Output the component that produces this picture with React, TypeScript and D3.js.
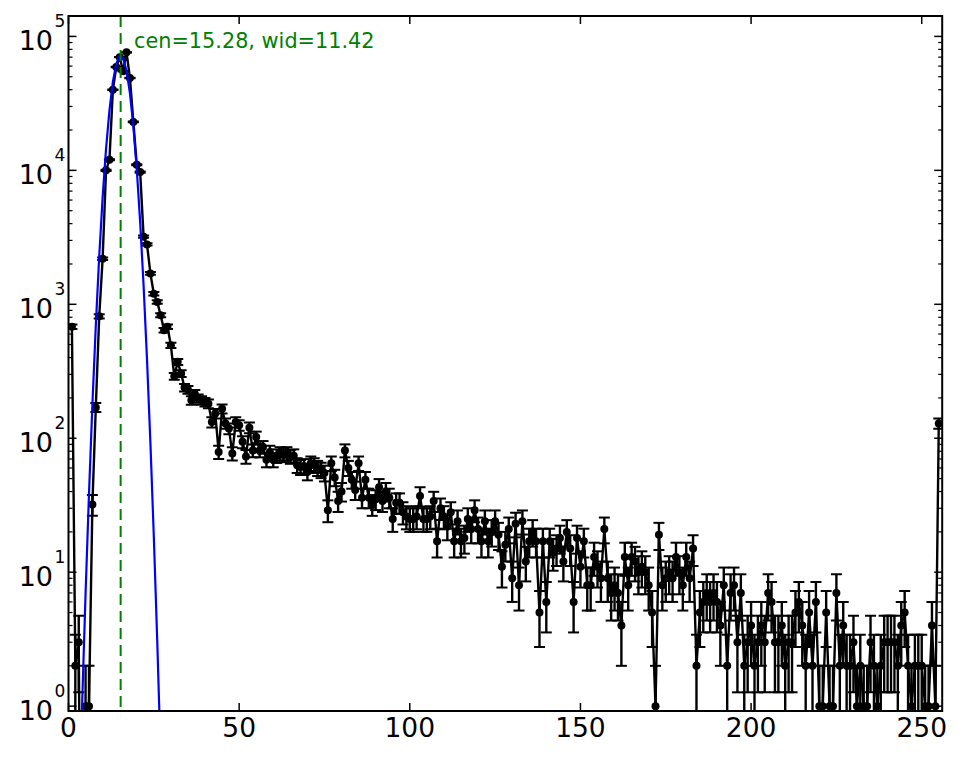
import React from 'react';
import * as d3 from 'd3';

// counts per channel, starting at channel 1
const firstChannel = 1;
const counts = [
  680, 2, 3, 0, 1, 1, 32, 170, 813, 2190,
  10000, 12000, 40000, 59000, 70000, 55000, 76000, 49000, 23000, 11000,
  9700, 3200, 2800, 1700, 1200, 1040, 830, 640, 680, 494,
  290, 372, 304, 239, 230, 192, 215, 198, 192, 186,
  181, 132, 153, 79, 166, 129, 118, 77, 132, 125,
  94, 73, 120, 81, 102, 81, 86, 69, 79, 69,
  74, 77, 75, 77, 73, 74, 63, 61, 62, 56,
  65, 63, 60, 58, 55, 29, 65, 51, 34, 40,
  81, 60, 49, 41, 65, 36, 49, 36, 32, 35,
  43, 34, 40, 36, 25, 33, 33, 28, 26, 25,
  25, 26, 37, 25, 25, 26, 34, 17, 30, 26,
  22, 28, 17, 24, 17, 18, 25, 21, 29, 21,
  17, 24, 17, 20, 24, 19, 11, 16, 21, 9,
  23, 8, 24, 12, 17, 20, 17, 5, 17, 6,
  17, 14, 15, 18, 12, 20, 15, 6, 18, 11,
  17, 8, 8, 13, 11, 9, 21, 9, 7, 8,
  7, 4, 13, 8, 13, 12, 10, 11, 10, 8,
  5, 1, 19, 8, 9, 10, 9, 13, 10, 8,
  13, 9, 15, 2, 5, 6, 7, 6, 7, 6,
  4, 8, 2, 7, 8, 3, 7, 2, 3, 4,
  2, 3, 4, 3, 7, 6, 3, 3, 4, 2,
  3, 3, 5, 6, 4, 2, 5, 2, 6, 1,
  1, 5, 1, 1, 7, 2, 4, 2, 2, 3,
  1, 2, 1, 1, 3, 2, 1, 2, 3, 3,
  3, 3, 2, 4, 5, 2, 1, 2, 2, 2,
  1, 1, 4, 1, 129,
];

const xTicks = [0, 50, 100, 150, 200, 250];
const yDecades = [0, 1, 2, 3, 4, 5];

// fitted gaussian parameters (shown in the label)
const fitCen = 15.28;
const fitWid = 11.42;
const fitAmp = 7.2e4;
const fitLabel = 'cen=15.28, wid=11.42';

export default function App() {
  const W = 965, H = 757;
  const L = 68.5, R = 942.2, T = 16, B = 711;
  const x = d3.scaleLinear().domain([0, 256]).range([L, R]);
  const y = d3.scaleLog().domain([0.92, 1.42e5]).range([B, T]);
  const floor = 1e-3;
  const yc = (v: number) => y(Math.max(v, floor));

  const pts = counts.map((v, i) => ({ x: i + firstChannel, v }));
  const line = d3.line<{ x: number; v: number }>().x(d => x(d.x)).y(d => yc(d.v));
  const fitPts = d3.range(0, 257).map(c => ({ x: c, v: fitAmp * Math.exp(-((c - fitCen) ** 2) / fitWid) }));

  const capW = 5.5;
  const font = 'DejaVu Sans, sans-serif';

  const minorTicks: number[] = [];
  for (let k = 0; k < 6; k++) for (let m = 2; m <= 9; m++) {
    const v = m * Math.pow(10, k);
    if (v <= 1.42e5) minorTicks.push(v);
  }

  return (
    <svg width={W} height={H} style={{ position: 'absolute', left: 0, top: 0, background: '#fff' }}
      xmlns="http://www.w3.org/2000/svg">
      <defs>
        <clipPath id="plotclip">
          <rect x={L} y={T} width={R - L} height={B - T} />
        </clipPath>
      </defs>
      <rect x={0} y={0} width={W} height={H} fill="#fff" />
      <g clipPath="url(#plotclip)">
        <path d={line(pts) || ''} fill="none" stroke="#000" strokeWidth={2.4} strokeLinejoin="round" />
        {pts.filter(d => d.v > 0).map(d => {
          const s = Math.sqrt(d.v);
          const lo = d.v - s, hi = d.v + s;
          const cx = x(d.x);
          const yl = yc(lo), yh = yc(hi);
          return (
            <g key={'e' + d.x}>
              <line x1={cx} x2={cx} y1={yl} y2={yh} stroke="#000" strokeWidth={2.4} />
              <line x1={cx - capW} x2={cx + capW} y1={yh} y2={yh} stroke="#000" strokeWidth={2} />
              {lo > 0 && <line x1={cx - capW} x2={cx + capW} y1={yl} y2={yl} stroke="#000" strokeWidth={2} />}
              <circle cx={cx} cy={y(d.v)} r={4} fill="#000" />
            </g>
          );
        })}
        <path d={line(fitPts) || ''} fill="none" stroke="#0000ff" strokeWidth={2.2} />
        <line x1={x(fitCen)} x2={x(fitCen)} y1={T} y2={B} stroke="#008000" strokeWidth={2} strokeDasharray="11,6" />
      </g>
      <text x={134} y={48} fill="#008000" fontFamily={font} fontSize={20.8}>{fitLabel}</text>

      {xTicks.map(t => (
        <g key={'xt' + t}>
          <line x1={x(t)} x2={x(t)} y1={B} y2={B - 8} stroke="#000" strokeWidth={1.5} />
          <line x1={x(t)} x2={x(t)} y1={T} y2={T + 8} stroke="#000" strokeWidth={1.5} />
          <text x={x(t)} y={737} textAnchor="middle" fontFamily={font} fontSize={26.5} fill="#000">{t}</text>
        </g>
      ))}
      {yDecades.map(k => {
        const py = y(Math.pow(10, k));
        return (
          <g key={'yt' + k}>
            <line x1={L} x2={L + 8} y1={py} y2={py} stroke="#000" strokeWidth={1.5} />
            <line x1={R} x2={R - 8} y1={py} y2={py} stroke="#000" strokeWidth={1.5} />
            <text x={53} y={py + 13.8} textAnchor="end" fontFamily={font} fontSize={27} fill="#000">10</text>
            <text x={54.5} y={py - 9.2} textAnchor="start" fontFamily={font} fontSize={17} fill="#000">{k}</text>
          </g>
        );
      })}
      {minorTicks.map(v => (
        <g key={'ym' + v}>
          <line x1={L} x2={L + 4} y1={y(v)} y2={y(v)} stroke="#000" strokeWidth={1.2} />
          <line x1={R} x2={R - 4} y1={y(v)} y2={y(v)} stroke="#000" strokeWidth={1.2} />
        </g>
      ))}
      <rect x={L} y={T} width={R - L} height={B - T} fill="none" stroke="#000" strokeWidth={2} />
    </svg>
  );
}
